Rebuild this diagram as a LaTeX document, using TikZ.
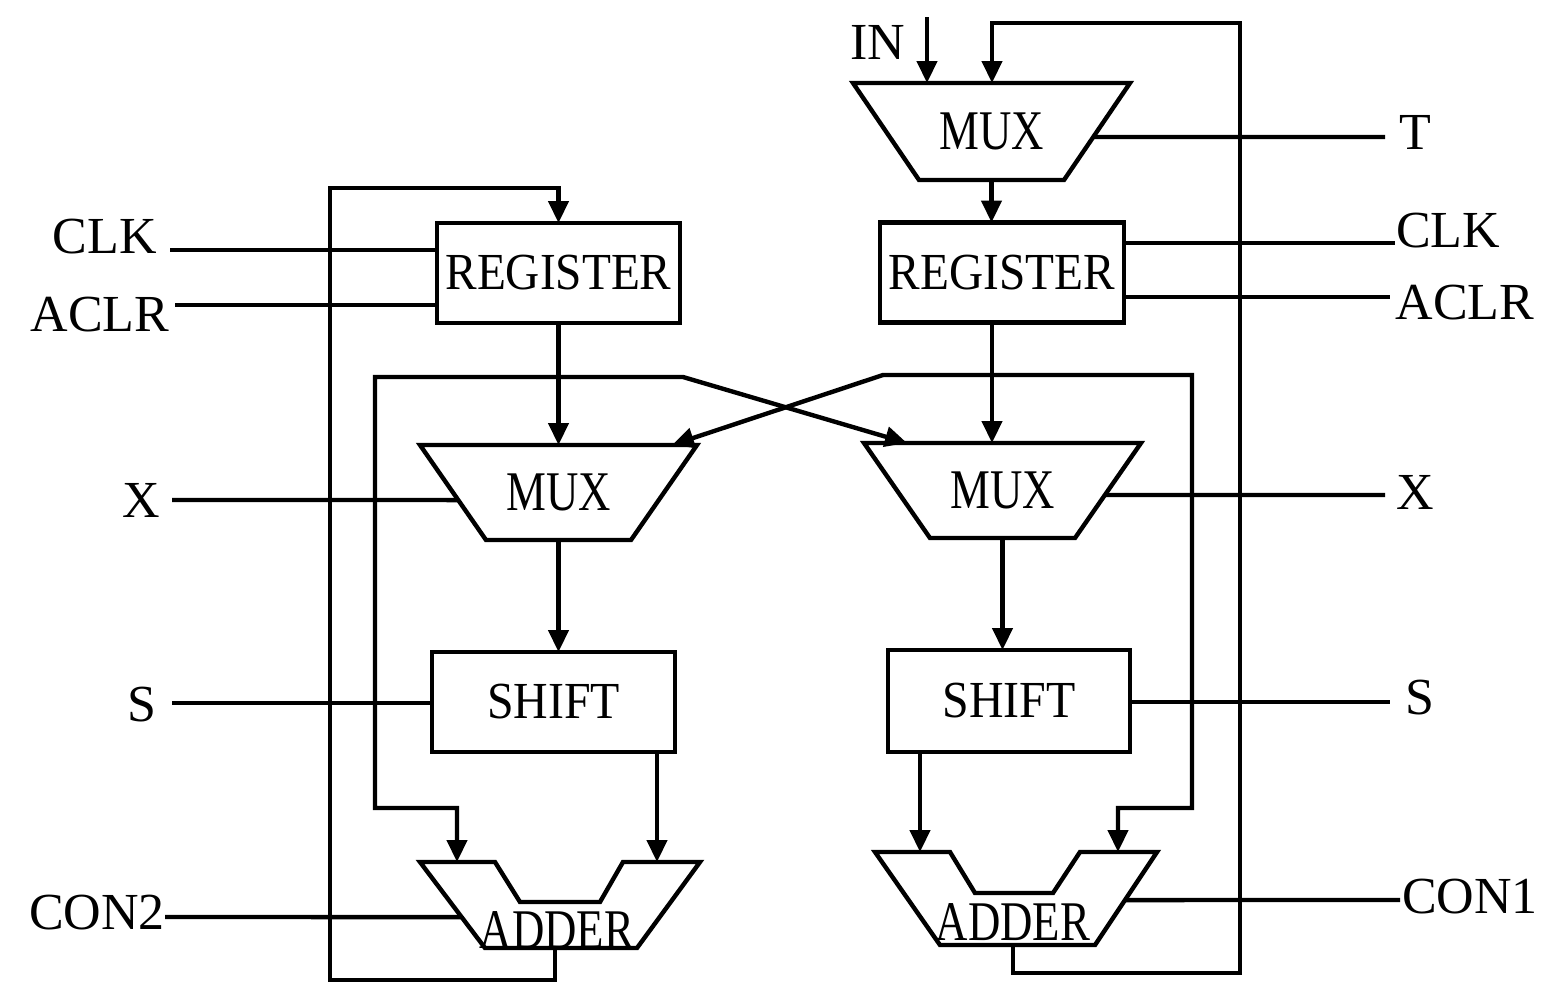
\documentclass[tikz,border=0pt]{standalone}
\usepackage{fontspec}
\usepackage{graphicx}
\setmainfont{Liberation Serif}
\usetikzlibrary{arrows.meta,calc}
\begin{document}
\begin{tikzpicture}[x=0.5pt,y=-0.5pt,
  wire/.style={line width=2.2pt,line join=miter},
  tip/.tip={Triangle[length=11pt,width=10pt]},
  arr/.style={wire,-tip},
  both/.style={wire,tip-tip},
  box/.style={draw,line width=2.2pt,inner sep=0pt,outer sep=0pt,minimum height=50pt,font=\fontsize{26}{28}\selectfont},
  lbl/.style={inner sep=0pt,font=\fontsize{26}{28}\selectfont},
  muxbox/.style={inner sep=0pt,outer sep=0pt,minimum width=138.5pt,minimum height=47.5pt,font=\fontsize{28}{30}\selectfont},
  addtxt/.style={inner sep=0pt,font=\fontsize{28}{30}\selectfont}]
\useasboundingbox (0,0) rectangle (1548,982);

% ---- blocks
\node[muxbox,minimum height=48.5pt] (muxT) at (991.5,131.5) {\scalebox{0.8}[1]{MUX}};
\node[muxbox] (mux1) at (558.5,492.5) {\scalebox{0.8}[1]{MUX}};
\node[muxbox] (mux2) at (1002.5,490.5) {\scalebox{0.8}[1]{MUX}};
\foreach \m in {muxT,mux1,mux2}{
  \coordinate (\m-se) at ($(\m.south east)+(-66,0)$);
  \coordinate (\m-sw) at ($(\m.south west)+(66,0)$);
  \draw[wire] (\m.north west) -- (\m.north east) -- (\m-se) -- (\m-sw) -- cycle;
}
\node[box,minimum width=121.5pt] (reg1) at (558.5,273) {\scalebox{0.91}[1]{REGISTER}};
\node[box,minimum width=122pt] (reg2) at (1002,272.5) {\scalebox{0.91}[1]{REGISTER}};
\node[box,minimum width=121.5pt] (shift1) at (553.5,702) {\scalebox{0.92}[1]{SHIFT}};
\node[box,minimum width=121pt,minimum height=51pt] (shift2) at (1009,701) {\scalebox{0.92}[1]{SHIFT}};

% adders
\coordinate (a1tl) at (420,862); \coordinate (a1tr) at (700,862);
\coordinate (a1bl) at (485,948); \coordinate (a1br) at (637,948);
\draw[wire] (a1tl) -- (495,862) -- (520,902) -- (600,902) -- (623,862) -- (a1tr) -- (a1br) -- (a1bl) -- cycle;
\node[addtxt] (add1) at (557,930) {\scalebox{0.8}[1]{ADDER}};
\coordinate (a2tl) at (875,852); \coordinate (a2tr) at (1157,852);
\coordinate (a2bl) at (940,945); \coordinate (a2br) at (1095,945);
\draw[wire] (a2tl) -- (950,852) -- (975,893) -- (1053,893) -- (1080,852) -- (a2tr) -- (a2br) -- (a2bl) -- cycle;
\node[addtxt] (add2) at (1013,922) {\scalebox{0.8}[1]{ADDER}};

\coordinate (a1in1) at (457,862); \coordinate (a1in2) at (657,862); \coordinate (a1out) at (555,948);
\coordinate (a2in1) at (920,852); \coordinate (a2in2) at (1118,852); \coordinate (a2out) at (1013,945);

% ---- labels
\node[lbl] (lIN) at (878,42) {IN};
\node[lbl] (lT) at (1415,132) {T};
\node[lbl] (lclk1) at (105,237) {CLK};
\node[lbl] (laclr1) at (100,315) {ACLR};
\node[lbl] (lclk2) at (1448,231) {CLK};
\node[lbl] (laclr2) at (1465,303) {ACLR};
\node[lbl] (lX1) at (141,500) {X};
\node[lbl] (lX2) at (1415,492) {X};
\node[lbl] (lS1) at (142,705) {S};
\node[lbl] (lS2) at (1420,698) {S};
\node[lbl] (lcon2) at (97,913) {CON2};
\node[lbl] (lcon1) at (1470,897) {CON1};

% ---- data path
\coordinate (inTop) at (927,17);
\draw[arr] (inTop) -- (inTop |- muxT.north);
\coordinate (xr) at (992,0);
\coordinate (fbin) at (muxT.north -| xr);
\draw[arr] (a2out) |- (1240,973) -- (1240,23) -| (fbin);
\draw[arr] (muxT.south) -- (muxT.south |- reg2.north);
\draw[arr] (reg2.south -| xr) -- (mux2.north -| xr);
\draw[arr] (mux2.south) -- (mux2.south |- shift2.north);
\draw[arr] (shift2.south -| a2in1) -- (a2in1);

\draw[arr] (a1out) |- (330,980) -- (330,188) -| (reg1.north);
\draw[arr] (reg1.south) -- (reg1.south |- mux1.north);
\draw[arr] (mux1.south) -- (mux1.south |- shift1.north);
\draw[arr] (shift1.south -| a1in2) -- (a1in2);

% crossing loops
\coordinate (m2x) at (907,443);
\coordinate (m1x) at (672,445);
\draw[both] (m2x) -- (683,377) -- (375,377) -- (375,808) -| (a1in1);
\draw[both] (m1x) -- (883,375) -- (1192,375) -- (1192,808) -| (a2in2);

% ---- control lines
\coordinate (cT) at (1385,137); \coordinate (cT0) at (900,137);
\draw[wire] (intersection of cT--cT0 and muxT.north east--muxT-se) -- (cT);
\coordinate (cclk1) at (170,250);
\draw[wire] (cclk1) -- (cclk1 -| reg1.west);
\coordinate (caclr1) at (175,305);
\draw[wire] (caclr1) -- (caclr1 -| reg1.west);
\coordinate (cclk2) at (1395,243);
\draw[wire] (reg2.east |- cclk2) -- (cclk2);
\coordinate (caclr2) at (1390,297);
\draw[wire] (reg2.east |- caclr2) -- (caclr2);
\coordinate (cX1) at (172,500); \coordinate (cX1b) at (600,500);
\draw[wire] (cX1) -- (intersection of cX1--cX1b and mux1.north west--mux1-sw);
\coordinate (cX2) at (1385,495); \coordinate (cX2b) at (1000,495);
\draw[wire] (intersection of cX2--cX2b and mux2.north east--mux2-se) -- (cX2);
\coordinate (cS1) at (172,703);
\draw[wire] (cS1) -- (cS1 -| shift1.west);
\coordinate (cS2) at (1390,702);
\draw[wire] (shift2.east |- cS2) -- (cS2);
\coordinate (ccon2) at (165,917); \coordinate (ccon2b) at (600,917);
\draw[wire] (ccon2) -- (intersection of ccon2--ccon2b and a1tl--a1bl);
\coordinate (ccon1) at (1400,900); \coordinate (ccon1b) at (1000,900);
\draw[wire] (intersection of ccon1--ccon1b and a2tr--a2br) -- (ccon1);
\end{tikzpicture}
\end{document}
